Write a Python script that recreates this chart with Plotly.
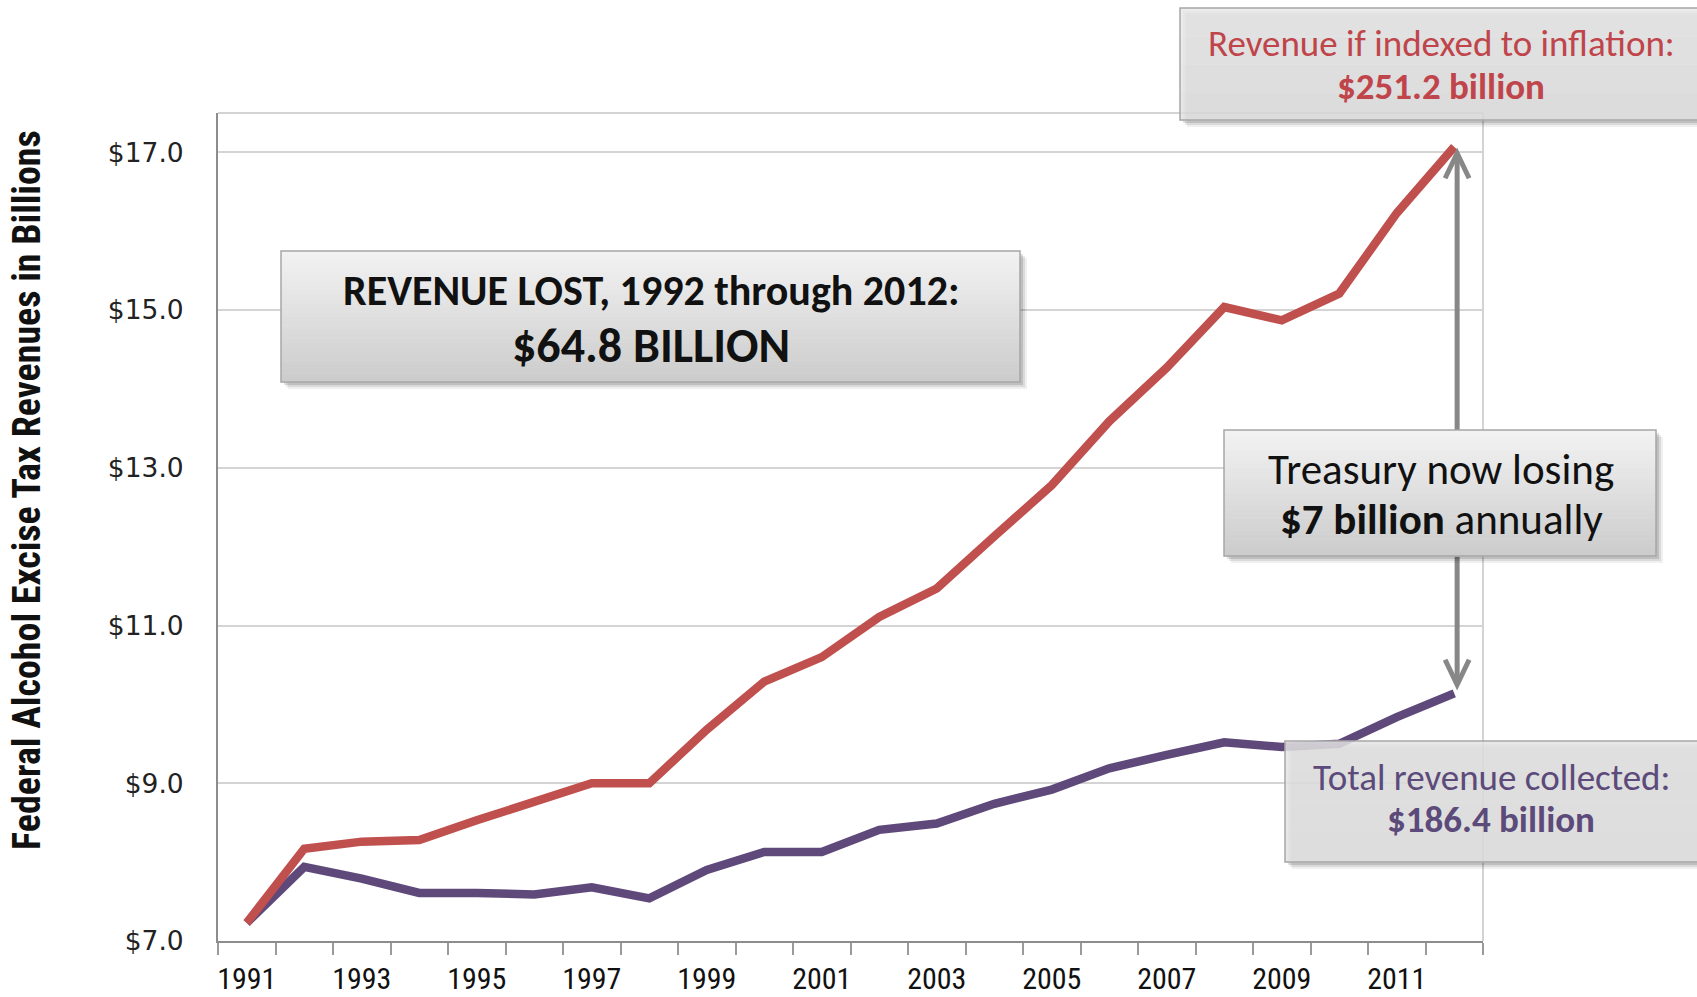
import plotly.graph_objects as go

# ---------------- data ----------------
years = list(range(1991, 2013))
indexed_revenue = [7.23, 8.17, 8.26, 8.28, 8.53, 8.77, 9.00, 9.00, 9.68, 10.29,
                   10.60, 11.11, 11.47, 12.13, 12.78, 13.59, 14.27, 15.04, 14.87,
                   15.21, 16.23, 17.07]
collected_revenue = [7.23, 7.94, 7.79, 7.61, 7.61, 7.59, 7.68, 7.54, 7.90, 8.13,
                     8.13, 8.41, 8.49, 8.74, 8.92, 9.19, 9.36, 9.52, 9.46, 9.50,
                     9.84, 10.14]
y_ticks = [7, 9, 11, 13, 15, 17]
y_tick_text = ["$7.0", "$9.0", "$11.0", "$13.0", "$15.0", "$17.0"]
x_label_years = list(range(1991, 2013, 2))

RED = "#c0504d"
PURPLE = "#5f497a"
RED_TEXT = "#bf454b"
PURPLE_TEXT = "#5b4a7a"
BOX_FONT = "Carlito, Lato, 'Open Sans', sans-serif"
NARROW = "'Liberation Sans Narrow', 'Roboto Condensed', 'DejaVu Sans Condensed', sans-serif"

# plot-area geometry in pixels
W_FIG, H_FIG = 1697, 997
L, R, T, B = 218, 1483, 113, 941
PW, PH = R - L, B - T


def fx(p):
    return (p - L) / PW


def fy(p):
    return (B - p) / PH


fig = go.Figure()

fig.add_trace(go.Scatter(x=years, y=collected_revenue, mode="lines",
                         line=dict(color=PURPLE, width=8.5), showlegend=False,
                         hoverinfo="skip"))
fig.add_trace(go.Scatter(x=years, y=indexed_revenue, mode="lines",
                         line=dict(color=RED, width=8.5), showlegend=False,
                         hoverinfo="skip"))

shapes = []

# double-headed arrow between the two 2012 values (drawn before boxes so it sits behind)
ax_x = years[-1] + 0.05
y_top = indexed_revenue[-1] - 0.08
y_bot = collected_revenue[-1] + 0.11
head_dx = 12 / (PW / 22)
head_dy = 25 / (PH / 10.5)
arrow_col = "#878787"
shapes.append(dict(type="line", xref="x", yref="y", x0=ax_x, x1=ax_x,
                   y0=y_top - 0.05, y1=y_bot + 0.05,
                   line=dict(color=arrow_col, width=5), layer="above"))
shapes.append(dict(type="path", xref="x", yref="y",
                   path=f"M {ax_x-head_dx},{y_top-head_dy} L {ax_x},{y_top} L {ax_x+head_dx},{y_top-head_dy}",
                   line=dict(color=arrow_col, width=5), layer="above"))
shapes.append(dict(type="path", xref="x", yref="y",
                   path=f"M {ax_x-head_dx},{y_bot+head_dy} L {ax_x},{y_bot} L {ax_x+head_dx},{y_bot+head_dy}",
                   line=dict(color=arrow_col, width=5), layer="above"))


def add_box(x0, y0, x1, y1, top_rgb, bot_rgb, alpha=1.0, n=30):
    # soft shadow
    for off, op in [(7, 0.06), (5, 0.09), (3, 0.12)]:
        shapes.append(dict(type="rect", xref="paper", yref="paper",
                           x0=fx(x0 + off), x1=fx(x1 + off),
                           y0=fy(y0 + off), y1=fy(y1 + off),
                           fillcolor=f"rgba(0,0,0,{op})", line=dict(width=0),
                           layer="above"))
    if alpha >= 1.0:
        shapes.append(dict(type="rect", xref="paper", yref="paper",
                           x0=fx(x0), x1=fx(x1), y0=fy(y0), y1=fy(y1),
                           fillcolor="white", line=dict(width=0), layer="above"))
    h = (y1 - y0) / n
    for i in range(n):
        t = i / (n - 1)
        c = [round(top_rgb[k] + (bot_rgb[k] - top_rgb[k]) * t) for k in range(3)]
        shapes.append(dict(type="rect", xref="paper", yref="paper",
                           x0=fx(x0), x1=fx(x1),
                           y0=fy(y0 + i * h), y1=fy(y0 + (i + 1) * h + 0.6),
                           fillcolor=f"rgba({c[0]},{c[1]},{c[2]},{alpha})",
                           line=dict(width=0), layer="above"))
    shapes.append(dict(type="rect", xref="paper", yref="paper",
                       x0=fx(x0), x1=fx(x1), y0=fy(y0), y1=fy(y1),
                       fillcolor="rgba(0,0,0,0)",
                       line=dict(color="#a6a6a6", width=1.5), layer="above"))


# boxes
add_box(1180, 8, 1712, 120, (232, 232, 232), (226, 226, 226), alpha=0.82, n=4)
add_box(281, 251, 1020, 382, (242, 242, 242), (204, 204, 204))
add_box(1224, 430, 1656, 556, (242, 242, 242), (204, 204, 204))
add_box(1285, 741, 1712, 862, (228, 228, 228), (226, 226, 226), alpha=0.85, n=4)

annotations = []


def txt(text, x, y, size, color, bold=False):
    annotations.append(dict(text=f"<b>{text}</b>" if bold else text,
                            xref="paper", yref="paper", x=fx(x), y=fy(y),
                            xanchor="center", yanchor="middle", showarrow=False,
                            font=dict(family=BOX_FONT, size=size, color=color)))


txt("Revenue if indexed to inflation:", 1441, 43, 37, RED_TEXT)
txt("$251.2 billion", 1441, 86, 37, RED_TEXT, bold=True)
txt("REVENUE LOST, 1992 through 2012:", 651, 290, 42, "#111111", bold=True)
txt("$64.8 BILLION", 651, 345, 48, "#111111", bold=True)
txt("Treasury now losing", 1441, 469, 43, "#111111")
txt("<b>$7 billion</b> annually", 1441, 519, 43, "#111111")
txt("Total revenue collected:", 1491, 777, 37, PURPLE_TEXT)
txt("$186.4 billion", 1491, 819, 37, PURPLE_TEXT, bold=True)

# y-axis title
annotations.append(dict(text="<b>Federal Alcohol Excise Tax Revenues in Billions</b>",
                        xref="paper", yref="paper", x=fx(27), y=fy(490),
                        xanchor="center", yanchor="middle", textangle=-90,
                        showarrow=False,
                        font=dict(family=NARROW, size=38, color="#111111")))

fig.update_layout(
    width=W_FIG, height=H_FIG,
    margin=dict(l=L, r=W_FIG - R, t=T, b=H_FIG - B, pad=0, autoexpand=False),
    paper_bgcolor="white", plot_bgcolor="white",
    shapes=shapes, annotations=annotations,
    showlegend=False,
    xaxis=dict(range=[1990.5, 2012.5], tickmode="array",
               tickvals=x_label_years, ticktext=[str(v) for v in x_label_years],
               ticks="", showgrid=False, zeroline=False, automargin=False,
               showline=True, linecolor="#8c8c8c", linewidth=2, mirror=False,
               ticklabelstandoff=10,
               tickfont=dict(family=NARROW, size=30, color="#111111"),
               minor=dict(tickmode="array",
                          tickvals=[y - 0.5 for y in years] + [years[-1] + 0.5],
                          ticks="outside", ticklen=12, tickwidth=1.5,
                          tickcolor="#9a9a9a", showgrid=False)),
    yaxis=dict(range=[7, 17.5], tickmode="array", tickvals=y_ticks,
               ticktext=y_tick_text, ticks="", showgrid=True,
               gridcolor="#d4d4d4", gridwidth=1.5, zeroline=False,
               automargin=False,
               showline=True, linecolor="#8c8c8c", linewidth=2,
               ticklabelstandoff=27,
               tickfont=dict(family="'DejaVu Sans', Verdana, sans-serif",
                             size=26.5, color="#222222")),
)

# light frame on top and right of plot area
fig.add_shape(type="line", xref="paper", yref="paper", x0=0, x1=1, y0=1, y1=1,
              line=dict(color="#c4c4c4", width=1.5), layer="below")
fig.add_shape(type="line", xref="paper", yref="paper", x0=1, x1=1, y0=0, y1=1,
              line=dict(color="#c4c4c4", width=1.5), layer="below")

fig.write_html("out.html")
